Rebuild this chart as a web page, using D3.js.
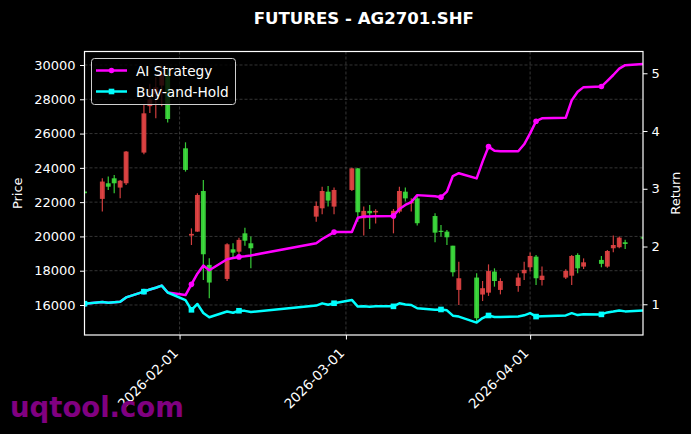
<!DOCTYPE html>
<html><head><meta charset="utf-8">
<script src="https://cdn.jsdelivr.net/npm/d3@7/dist/d3.min.js"></script>
<style>body{margin:0;background:#000;} svg{display:block;} text{font-family:"DejaVu Sans",sans-serif;}</style>
</head><body><svg id="c" width="691" height="434"></svg>
<script>
const dates = ["2026-01-16","2026-01-19","2026-01-20","2026-01-21","2026-01-22","2026-01-23",
"2026-01-26","2026-01-27","2026-01-28","2026-01-29","2026-01-30",
"2026-02-02","2026-02-03","2026-02-04","2026-02-05","2026-02-06",
"2026-02-09","2026-02-10","2026-02-11","2026-02-12","2026-02-13",
"2026-02-24","2026-02-25","2026-02-26","2026-02-27",
"2026-03-02","2026-03-03","2026-03-04","2026-03-05","2026-03-06",
"2026-03-09","2026-03-10","2026-03-11","2026-03-12","2026-03-13",
"2026-03-16","2026-03-17","2026-03-18","2026-03-19","2026-03-20",
"2026-03-23","2026-03-24","2026-03-25","2026-03-26","2026-03-27",
"2026-03-30","2026-03-31","2026-04-01","2026-04-02","2026-04-03",
"2026-04-07","2026-04-08","2026-04-09","2026-04-10",
"2026-04-13","2026-04-14","2026-04-15","2026-04-16","2026-04-17",
"2026-04-20"];
const opens  = [22620,22190,23100,23390,22850,23100,24890,27600,28300,28800,29500,25140,20050,20280,22650,18340,17520,19250,19110,20180,19600,21155,21640,22610,21740,22710,23970,21060,21490,21400,21210,21450,22610,21930,22220,21190,20330,20280,19460,16880,17600,16610,16720,17950,16880,17110,17850,18200,18820,17460,17600,17710,18920,18240,18630,18240,19310,19370,19660,19950];
const highs  = [22680,23390,23490,23580,23290,24980,27670,28900,29300,29900,29850,25490,20470,22520,23290,18720,19600,19600,19930,20510,19990,22030,22900,22940,22850,24010,23990,21740,21840,21580,21600,22900,22850,22220,22380,21350,20670,20380,19460,18530,17850,17400,18370,18140,17560,17850,18530,19060,18920,18240,18080,18920,19020,18720,18860,19210,20050,19990,19800,20000];
const lows   = [22480,21450,22710,22520,22220,23000,24790,27200,26900,27600,26650,23780,19500,20280,17460,16390,17400,18725,18960,19460,18140,20860,21290,21740,21290,22650,20860,20050,20440,20760,20180,21350,22030,21450,20640,19660,19990,19500,17660,16000,15030,16230,16530,17070,16620,16780,17460,17950,17170,17140,17520,17170,17850,18100,18200,18180,19070,19310,19270,19850];
const closes = [22520,23200,22900,23100,23250,24950,27180,28000,28700,29500,26850,23880,20150,22420,18960,17310,19540,19055,19800,19750,19310,21780,22650,22090,22710,23970,21410,21490,21350,21490,21490,22650,22220,22030,20770,20220,20300,19950,17910,17560,15230,16980,17980,17400,17400,17600,18050,18860,17560,17710,17990,18860,18140,18490,18400,19150,19500,19930,19560,19880];
const aiStrategy = [1.01,1.040,1.027,1.036,1.043,1.119,1.219,1.256,1.287,1.323,1.204,1.16,1.345,1.53,1.67,1.59,1.78,1.80,1.82,1.83,1.845,2.056,2.13,2.19,2.25,2.25,2.50,2.52,2.52,2.525,2.53,2.65,2.72,2.77,2.89,2.87,2.855,2.95,3.22,3.27,3.18,3.47,3.73,3.66,3.65,3.65,3.77,3.96,4.17,4.22,4.23,4.53,4.68,4.76,4.77,4.87,4.97,5.08,5.14,5.16];
const buyHold = [1.01,1.040,1.027,1.036,1.043,1.119,1.219,1.256,1.287,1.323,1.204,1.071,0.904,1.005,0.850,0.776,0.876,0.854,0.888,0.886,0.866,0.977,1.016,0.991,1.018,1.075,0.960,0.964,0.957,0.964,0.964,1.016,0.996,0.988,0.931,0.907,0.910,0.895,0.803,0.787,0.683,0.761,0.806,0.780,0.780,0.789,0.809,0.846,0.787,0.794,0.807,0.846,0.813,0.829,0.825,0.859,0.874,0.894,0.877,0.891];
const priceTicks = [16000,18000,20000,22000,24000,26000,28000,30000];
const returnTicks = [1,2,3,4,5];
const dateTicks = ["2026-02-01","2026-03-01","2026-04-01"];
const titleText = "FUTURES - AG2701.SHF";
const seriesNames = ["AI Strategy","Buy-and-Hold"];

const parse = d3.utcParse("%Y-%m-%d");
const fmt = d3.utcFormat("%Y-%m-%d");
const L = 84.5, R = 643, T = 51.5, B = 335;
const svg = d3.select("#c");
svg.append("rect").attr("width",691).attr("height",434).attr("fill","#000");

const ds = dates.map(parse);
const x = d3.scaleUtc().domain([ds[0], ds[ds.length-1]]).range([L, R]);
const y = d3.scaleLinear().domain([14250, 30787]).range([B, T]);
const y2 = d3.scaleLinear().domain([0.468, 5.377]).range([B, T]);

svg.append("defs").append("clipPath").attr("id","clip")
  .append("rect").attr("x",L).attr("y",T).attr("width",R-L).attr("height",B-T);

// grid
const grid = svg.append("g").attr("stroke","#777").attr("stroke-opacity",0.55)
  .attr("stroke-width",0.8).attr("stroke-dasharray","3,2");
priceTicks.forEach(v => grid.append("line").attr("x1",L).attr("x2",R).attr("y1",y(v)).attr("y2",y(v)));
dateTicks.forEach(d => grid.append("line").attr("y1",T).attr("y2",B).attr("x1",x(parse(d))).attr("x2",x(parse(d))));

// candles
const day = x(parse("2026-01-17")) - x(parse("2026-01-16"));
const bw = day * 0.82;
const cg = svg.append("g").attr("clip-path","url(#clip)");
ds.forEach((d,i) => {
  const up = closes[i] >= opens[i];
  const col = up ? "#e64545" : "#3ee03e";
  const cx = x(d);
  cg.append("line").attr("x1",cx).attr("x2",cx).attr("y1",y(highs[i])).attr("y2",y(lows[i]))
    .attr("stroke",col).attr("stroke-width",1.2).attr("opacity",0.9);
  const top = y(Math.max(opens[i],closes[i])), bot = y(Math.min(opens[i],closes[i]));
  cg.append("rect").attr("x",cx-bw/2).attr("width",bw).attr("y",top).attr("height",Math.max(1.2,bot-top))
    .attr("fill",col).attr("opacity",0.9);
});

// lines
const lg = svg.append("g").attr("clip-path","url(#clip)");
const line = d3.line().x((v,i)=>x(ds[i])).y(v=>y2(v));
lg.append("path").datum(aiStrategy).attr("d",line).attr("fill","none").attr("stroke","#ff00ff")
  .attr("stroke-width",2.5).attr("stroke-linejoin","round");
aiStrategy.forEach((v,i)=>{ if(i%6===0) lg.append("circle").attr("cx",x(ds[i])).attr("cy",y2(v)).attr("r",2.8).attr("fill","#ff00ff"); });
lg.append("path").datum(buyHold).attr("d",line).attr("fill","none").attr("stroke","#00ffff")
  .attr("stroke-width",2.5).attr("stroke-linejoin","round");
buyHold.forEach((v,i)=>{ if(i%6===0) lg.append("rect").attr("x",x(ds[i])-2.8).attr("y",y2(v)-2.8).attr("width",5.6).attr("height",5.6).attr("fill","#00ffff"); });

// axes
function styleAxis(g){
  g.select(".domain").remove();
  g.selectAll(".tick line").attr("stroke","#fff").attr("stroke-width",1);
  g.selectAll(".tick text").attr("fill","#fff").style("font-size","13px").style("font-family","DejaVu Sans");
}
svg.append("g").attr("transform",`translate(${L},0)`)
  .call(d3.axisLeft(y).tickValues(priceTicks).tickFormat(d3.format("d")).tickSize(4.5).tickPadding(4.5)).call(styleAxis);
svg.append("g").attr("transform",`translate(${R},0)`)
  .call(d3.axisRight(y2).tickValues(returnTicks).tickFormat(d3.format("d")).tickSize(4.5).tickPadding(4)).call(styleAxis);
const xa = svg.append("g").attr("transform",`translate(0,${B})`)
  .call(d3.axisBottom(x).tickValues(dateTicks.map(parse)).tickFormat(fmt).tickSize(4.5)).call(styleAxis);
xa.selectAll(".tick text").attr("text-anchor","end").attr("dy",null).attr("y",null)
  .style("font-size","13.5px")
  .attr("transform","translate(-1,19) rotate(-45)");

// frame
svg.append("rect").attr("x",L).attr("y",T).attr("width",R-L).attr("height",B-T)
  .attr("fill","none").attr("stroke","#fff").attr("stroke-width",1.2);

// title & labels
svg.append("text").attr("x",(L+R)/2).attr("y",24).attr("text-anchor","middle")
  .attr("fill","#fff").style("font-size","16.6px").style("font-weight","bold").text(titleText);
svg.append("text").attr("transform",`translate(22,${(T+B)/2}) rotate(-90)`).attr("text-anchor","middle")
  .attr("fill","#fff").style("font-size","13px").text("Price");
svg.append("text").attr("transform",`translate(679.5,${(T+B)/2}) rotate(-90)`).attr("text-anchor","middle")
  .attr("fill","#fff").style("font-size","13px").text("Return");

// legend
const leg = svg.append("g");
leg.append("rect").attr("x",91.5).attr("y",58.5).attr("width",144).attr("height",46).attr("rx",3)
  .attr("fill","#000").attr("fill-opacity",0.8).attr("stroke","#cfcfcf").attr("stroke-width",1);
leg.append("line").attr("x1",96).attr("x2",127).attr("y1",70.5).attr("y2",70.5).attr("stroke","#ff00ff").attr("stroke-width",2.5);
leg.append("circle").attr("cx",111.5).attr("cy",70.5).attr("r",2.8).attr("fill","#ff00ff");
leg.append("line").attr("x1",96).attr("x2",127).attr("y1",91.5).attr("y2",91.5).attr("stroke","#00ffff").attr("stroke-width",2.5);
leg.append("rect").attr("x",111.5-2.8).attr("y",91.5-2.8).attr("width",5.6).attr("height",5.6).attr("fill","#00ffff");
leg.append("text").attr("x",136).attr("y",75.5).attr("fill","#fff").style("font-size","13.7px").text(seriesNames[0]);
leg.append("text").attr("x",136).attr("y",96.5).attr("fill","#fff").style("font-size","13.7px").text(seriesNames[1]);

// watermark
svg.append("text").attr("x",10).attr("y",417).attr("fill","#800080").style("font-size","27.5px")
  .style("font-weight","bold").text("uqtool.com");
</script></body></html>
